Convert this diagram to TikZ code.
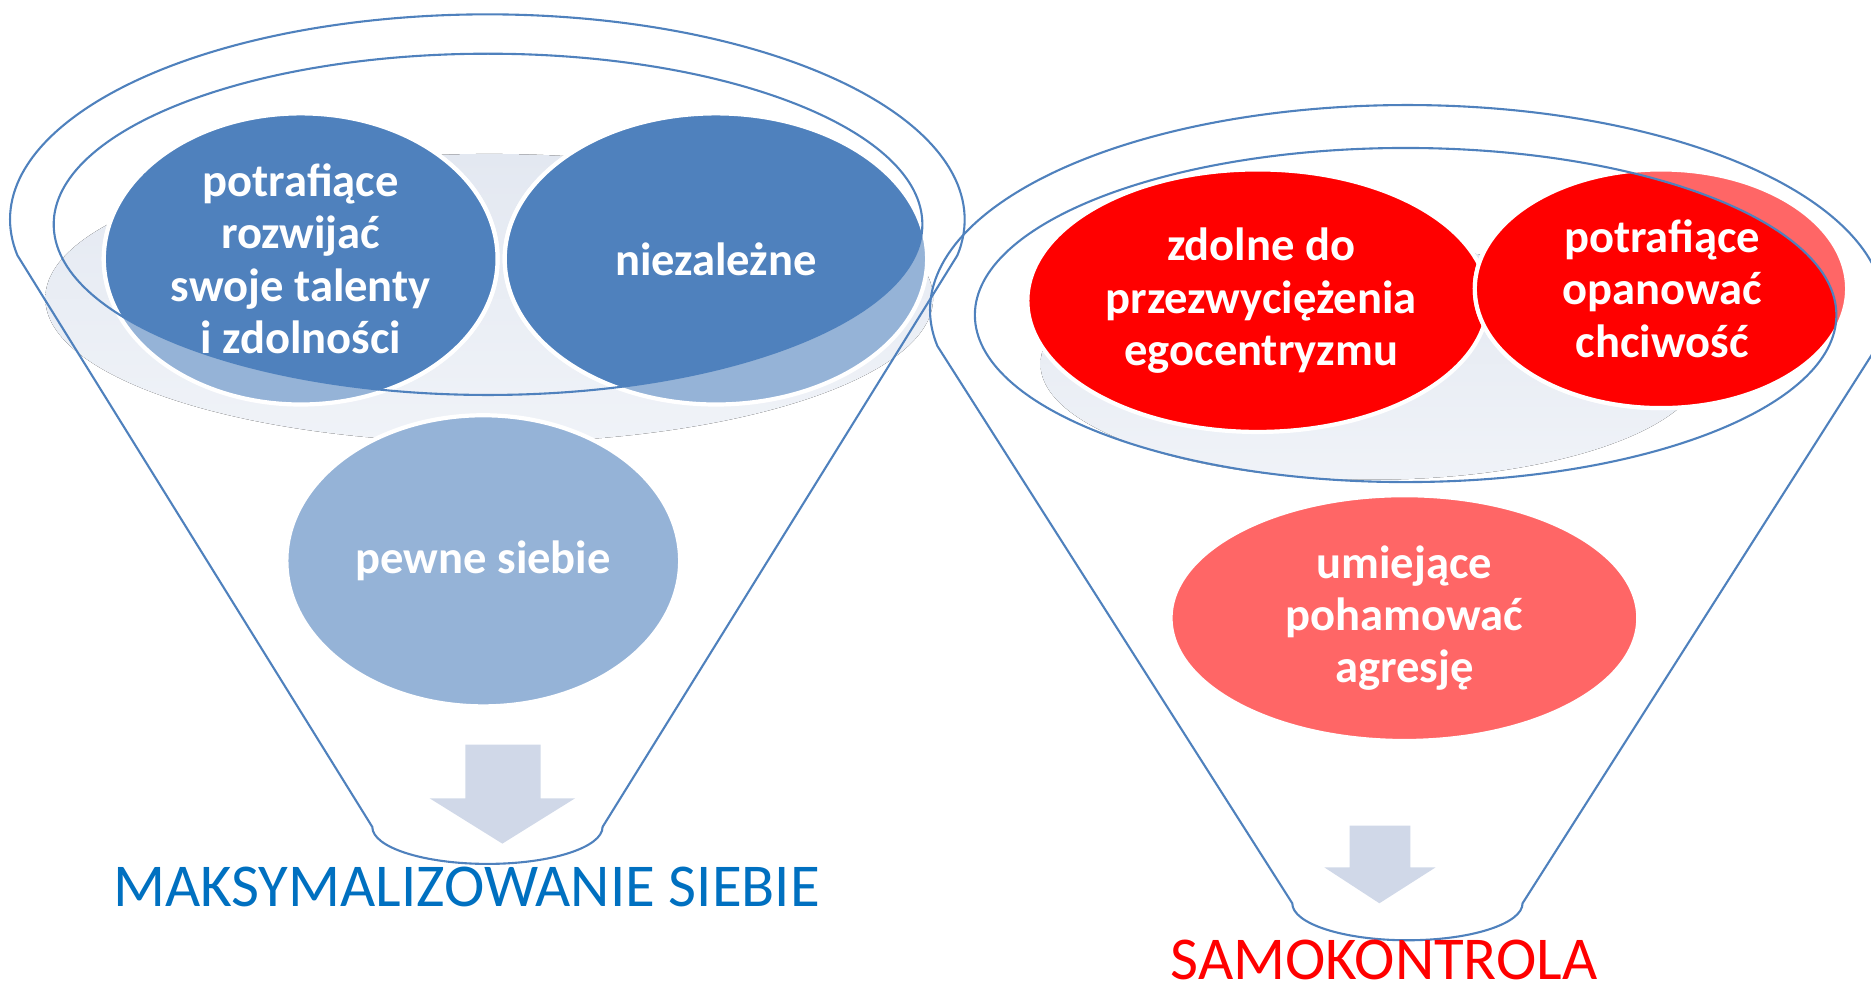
\documentclass[tikz,border=0pt]{standalone}
\usepackage{fontspec}
\setmainfont{Carlito}
\usepackage{tikz}
\usetikzlibrary{shapes}
\usepackage{xcolor}

\definecolor{ciemnyniebieski}{HTML}{4F81BD}
\definecolor{jasnyniebieski}{HTML}{95B3D7}
\definecolor{czerwony}{HTML}{FF0000}
\definecolor{jasnyczerwony}{HTML}{FF6666}
\definecolor{cien}{HTML}{E3E8F1}
\definecolor{cienjasny}{HTML}{F0F3F8}
\definecolor{strzalka}{HTML}{D0D8E8}
\definecolor{podpis}{HTML}{0070C0}

\begin{document}
\begin{tikzpicture}[x = 0.01cm, y = -0.01cm,
  bubble/.style = {draw = white, line width = 1pt},
  bubbletext/.style = {align = center, text = white, font = \fontsize{11.1}{12.5}\selectfont\bfseries},
  outline/.style = {draw = ciemnyniebieski, line width = 0.5pt},
  shadow/.style = {top color = cien, bottom color = cienjasny},
  arrowshape/.style = {fill = strzalka},
  caption/.style = {anchor = base, inner sep = 0pt, text depth = 0pt, font = \fontsize{14.5}{17}\selectfont}]
  \useasboundingbox (0, 0) rectangle (1568, 830);
  \coordinate (lejekL) at (409, 188);
  \coordinate (lejekP) at (1178, 264);
  \coordinate (talenty) at (252, 217);
  \coordinate (niezal) at (600, 217);
  \coordinate (pewne) at (405, 470);
  \coordinate (ego) at (1054, 252);
  \coordinate (chciw) at (1392, 242);
  \coordinate (agres) at (1177, 518);
  \fill[shadow] (410, 250) ellipse [x radius = 372, y radius = 121];
  \fill[shadow] (1150, 305) ellipse [x radius = 278, y radius = 97];
  \filldraw[bubble, fill = jasnyniebieski] (talenty) ellipse [x radius = 165, y radius = 122];
  \filldraw[bubble, fill = jasnyniebieski] (niezal) ellipse [x radius = 177, y radius = 122];
  \filldraw[bubble, fill = jasnyniebieski] (pewne) ellipse [x radius = 165, y radius = 122];
  \begin{scope}
  \clip (lejekL) ellipse [x radius = 364, y radius = 143];
  \filldraw[bubble, fill = ciemnyniebieski] (talenty) ellipse [x radius = 165, y radius = 122];
  \filldraw[bubble, fill = ciemnyniebieski] (niezal) ellipse [x radius = 177, y radius = 122];
  \end{scope}
  \filldraw[bubble, fill = czerwony] (ego) ellipse [x radius = 193, y radius = 110];
  \filldraw[bubble, fill = jasnyczerwony] (chciw) ellipse [x radius = 156, y radius = 100];
  \filldraw[bubble, fill = jasnyczerwony] (agres) ellipse [x radius = 196, y radius = 103];
  \begin{scope}
  \clip (lejekP) ellipse [x radius = 361, y radius = 140];
  \filldraw[bubble, fill = czerwony] (chciw) ellipse [x radius = 156, y radius = 100];
  \end{scope}
  \draw[outline] (lejekL) ellipse [x radius = 364, y radius = 143];
  \draw[outline] (lejekP) ellipse [x radius = 361, y radius = 140];
  \foreach \cx/\cy/\by in {408.5/184/693, 1179.5/260/757}
  {
  \draw[outline] (\cx - 393.9, \cy + 30) arc [start angle = 169.96, end angle = 370.04, x radius = 400, y radius = 172]
    -- (\cx + 96.5, \by) arc [start angle = 0, end angle = 180, x radius = 96.5, y radius = 31] -- cycle;
  }
  \node[bubbletext] at (talenty) (t1) {potrafiące\\rozwijać\\swoje talenty\\i zdolności};
  \node[bubbletext] at (niezal) (t2) {niezależne};
  \node[bubbletext] at (pewne) (t3) {pewne siebie};
  \node[bubbletext] at (1057, 252) (t4) {zdolne do\\przezwyciężenia\\egocentryzmu};
  \node[bubbletext] at (1393, 242) (t5) {potrafiące\\opanować\\chciwość};
  \node[bubbletext] at (agres) (t6) {umiejące\\pohamować\\agresję};
  \fill[arrowshape] (390, 624) -- (453, 624) -- (453, 669) -- (482, 669) -- (421, 707) -- (360, 669) -- (390, 669) -- cycle;
  \fill[arrowshape] (1131, 692) -- (1182, 692) -- (1182, 727) -- (1203, 727) -- (1156, 757) -- (1110, 727) -- (1131, 727) -- cycle;
  \node[caption, text = podpis] at (391, 760) (maks) {MAKSYMALIZOWANIE SIEBIE};
  \node[caption, text = czerwony] at (1160, 821) (samo) {SAMOKONTROLA};
\end{tikzpicture}
\end{document}
